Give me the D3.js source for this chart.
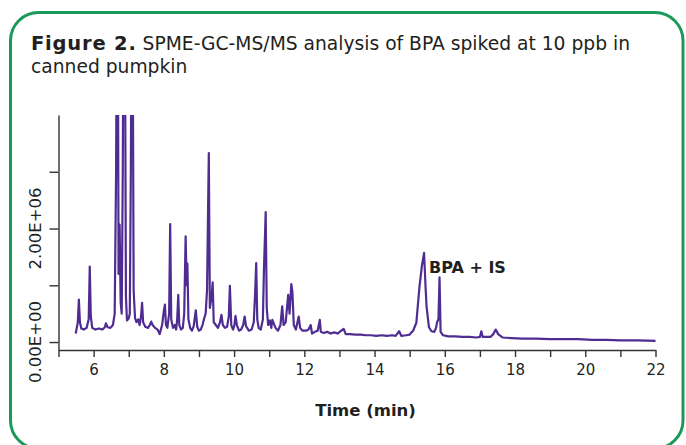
<!DOCTYPE html>
<html>
<head>
<meta charset="utf-8">
<script src="https://cdn.jsdelivr.net/npm/d3@7/dist/d3.min.js"></script>
<style>
	body { margin: 0; background: #fff; }
	svg text { font-family: "DejaVu Sans", Verdana, sans-serif; fill: #231f20; }
</style>
</head>
<body>
<div id="chart"></div>
<script>

///////////////////////////////////////////////////////////////////////////
//////////////////////////////// Data /////////////////////////////////////
///////////////////////////////////////////////////////////////////////////

//Retention time (min) and abundance (x 1E+06)
var times = [5.49,5.55,5.58,5.61,5.65,5.72,5.80,5.86,5.89,5.92,5.96,6.05,6.15,6.25,6.32,6.35,6.40,6.48,6.55,6.60,
	6.64,6.66,6.69,6.71,6.74,6.77,6.80,6.83,6.85,6.89,6.92,6.95,7.00,7.03,7.06,7.08,7.11,7.14,7.18,7.22,
	7.27,7.31,7.35,7.38,7.41,7.47,7.55,7.60,7.64,7.68,7.75,7.82,7.88,7.95,8.00,8.03,8.06,8.10,8.15,8.18,
	8.21,8.26,8.31,8.35,8.38,8.41,8.44,8.49,8.54,8.58,8.62,8.65,8.67,8.70,8.75,8.80,8.85,8.91,8.95,9.00,
	9.05,9.10,9.15,9.19,9.23,9.28,9.31,9.36,9.39,9.42,9.48,9.54,9.60,9.64,9.68,9.74,9.80,9.85,9.88,9.92,
	9.97,10.01,10.04,10.08,10.14,10.20,10.26,10.30,10.34,10.42,10.50,10.56,10.60,10.63,10.66,10.70,10.76,10.82,10.85,10.90,
	10.93,10.97,11.02,11.06,11.09,11.18,11.25,11.32,11.37,11.41,11.47,11.54,11.58,11.63,11.66,11.70,11.76,11.84,11.88,11.95,
	12.05,12.12,12.18,12.22,12.30,12.38,12.44,12.47,12.55,12.65,12.75,12.85,12.95,13.05,13.12,13.18,13.30,13.45,13.60,13.75,
	13.90,14.05,14.20,14.35,14.50,14.60,14.70,14.76,14.90,15.00,15.05,15.10,15.19,15.28,15.35,15.41,15.45,15.48,15.55,15.62,
	15.70,15.75,15.78,15.82,15.85,15.88,15.95,16.10,16.30,16.50,16.70,16.90,17.00,17.04,17.08,17.30,17.38,17.45,17.52,17.65,
	17.90,18.20,18.60,19.00,19.40,19.80,20.20,20.60,21.00,21.50,22.00];

var abundance = [0.15,0.35,0.75,0.35,0.24,0.22,0.25,0.40,1.33,0.45,0.25,0.22,0.24,0.22,0.26,0.33,0.26,0.25,0.30,0.50,
	3.00,6.00,6.00,1.20,2.07,0.70,0.50,3.00,6.00,6.00,0.80,0.38,0.42,0.50,3.00,6.00,6.00,0.90,0.42,0.35,
	0.40,0.30,0.45,0.69,0.35,0.27,0.25,0.30,0.36,0.30,0.25,0.22,0.14,0.30,0.55,0.66,0.30,0.25,0.50,2.08,
	0.40,0.25,0.30,0.22,0.40,0.83,0.30,0.22,0.25,0.50,1.86,1.00,1.38,0.40,0.25,0.20,0.28,0.56,0.27,0.20,
	0.22,0.30,0.42,0.50,0.92,3.33,0.60,0.80,1.05,0.35,0.30,0.25,0.35,0.48,0.30,0.25,0.27,0.45,0.99,0.30,
	0.22,0.30,0.46,0.30,0.20,0.22,0.30,0.45,0.28,0.20,0.22,0.35,0.87,1.39,0.40,0.25,0.22,0.40,1.27,2.29,
	0.60,0.30,0.38,0.25,0.39,0.25,0.20,0.30,0.63,0.30,0.35,0.83,0.50,1.02,0.89,0.30,0.22,0.45,0.25,0.20,
	0.20,0.22,0.30,0.15,0.18,0.20,0.39,0.18,0.16,0.18,0.15,0.17,0.15,0.20,0.23,0.14,0.14,0.13,0.13,0.12,
	0.12,0.11,0.12,0.11,0.12,0.11,0.19,0.11,0.12,0.13,0.17,0.20,0.34,0.98,1.35,1.57,1.00,0.63,0.26,0.19,
	0.18,0.25,0.35,0.40,1.14,0.18,0.12,0.10,0.10,0.09,0.09,0.08,0.09,0.19,0.09,0.09,0.14,0.22,0.14,0.08,
	0.07,0.06,0.06,0.05,0.05,0.05,0.04,0.04,0.03,0.03,0.02];

var xTicks = [5,6,7,8,9,10,11,12,13,14,15,16,17,18,19,20,21,22];
var xLabels = [6,8,10,12,14,16,18,20,22];
var yTicks = [0,1,2,3];
var yLabels = [0,2];

var trace = times.map(function(t,i) { return {t: t, v: abundance[i]}; });

///////////////////////////////////////////////////////////////////////////
//////////////////// Set up and initiate svg container ////////////////////
///////////////////////////////////////////////////////////////////////////

var width = 686,
	height = 445;

var svg = d3.select("#chart")
	.append("svg")
	.attr("width", width)
	.attr("height", height);

//Green rounded frame
svg.append("rect")
	.attr("x", 10.5)
	.attr("y", 12.5)
	.attr("width", 672.5)
	.attr("height", 436)
	.attr("rx", 28)
	.style("fill", "none")
	.style("stroke", "#1a9a5a")
	.style("stroke-width", 3);

//Title
var title = svg.append("text")
	.attr("x", 31)
	.attr("y", 50)
	.style("font-size", "18.7px");
title.append("tspan")
	.style("font-weight", "bold")
	.style("font-size", "19.5px")
	.style("letter-spacing", "0.8px")
	.text("Figure 2.");
title.append("tspan")
	.text(" SPME-GC-MS/MS analysis of BPA spiked at 10 ppb in");
svg.append("text")
	.attr("x", 31)
	.attr("y", 73)
	.style("font-size", "18.7px")
	.text("canned pumpkin");

///////////////////////////////////////////////////////////////////////////
//////////////////////////////// Scales ///////////////////////////////////
///////////////////////////////////////////////////////////////////////////

var x = d3.scaleLinear()
	.domain([5, 22])
	.range([58.5, 655.5]);

var y = d3.scaleLinear()
	.domain([-0.14, 4])
	.range([350, 115]);

///////////////////////////////////////////////////////////////////////////
///////////////////////////////// Axes ////////////////////////////////////
///////////////////////////////////////////////////////////////////////////

var xAxis = svg.append("g")
	.attr("transform", "translate(0," + y(-0.14) + ")")
	.call(d3.axisBottom(x)
		.tickValues(xTicks)
		.tickSize(7)
		.tickSizeOuter(0)
		.tickFormat(function(d) { return xLabels.indexOf(d) > -1 ? d : ""; }));

var yAxis = svg.append("g")
	.attr("transform", "translate(" + x(5) + ",0)")
	.call(d3.axisLeft(y)
		.tickValues(yTicks)
		.tickSize(9)
		.tickSizeOuter(0)
		.tickFormat(""));

svg.selectAll(".domain, .tick line")
	.style("stroke", "#333")
	.style("stroke-width", 1.4);

xAxis.selectAll(".tick text")
	.attr("dy", "1.0em")
	.style("font-size", "15px")
	.style("font-family", "'DejaVu Sans', Verdana, sans-serif")
	.style("fill", "#231f20");

//Rotated y labels in scientific notation
svg.selectAll(".y-label")
	.data(yLabels)
	.enter().append("text")
	.attr("class", "y-label")
	.attr("transform", function(d) { return "translate(41," + y(d) + ") rotate(-90)"; })
	.style("text-anchor", "middle")
	.style("font-size", "16.5px")
	.text(function(d) { return (d * 1e6).toExponential(2).toUpperCase().replace(/E([+-])(\d)$/, "E$10$2"); });

//Axis title
svg.append("text")
	.attr("x", 365.5)
	.attr("y", 416)
	.style("text-anchor", "middle")
	.style("font-size", "16.5px")
	.style("font-weight", "bold")
	.text("Time (min)");

///////////////////////////////////////////////////////////////////////////
//////////////////////////////// Trace ////////////////////////////////////
///////////////////////////////////////////////////////////////////////////

svg.append("defs").append("clipPath")
	.attr("id", "clip")
	.append("rect")
	.attr("x", x(5))
	.attr("y", y(4))
	.attr("width", x(22) - x(5) + 2)
	.attr("height", y(-0.14) - y(4));

var line = d3.line()
	.x(function(d) { return x(d.t); })
	.y(function(d) { return y(d.v); });

svg.append("path")
	.datum(trace)
	.attr("clip-path", "url(#clip)")
	.attr("d", line)
	.style("fill", "none")
	.style("stroke", "#4f2c91")
	.style("stroke-width", 2.2)
	.style("stroke-linejoin", "round");

//Peak annotation
svg.append("text")
	.attr("x", 429)
	.attr("y", 273)
	.style("font-size", "16px")
	.style("font-weight", "bold")
	.text("BPA + IS");

</script>
</body>
</html>
